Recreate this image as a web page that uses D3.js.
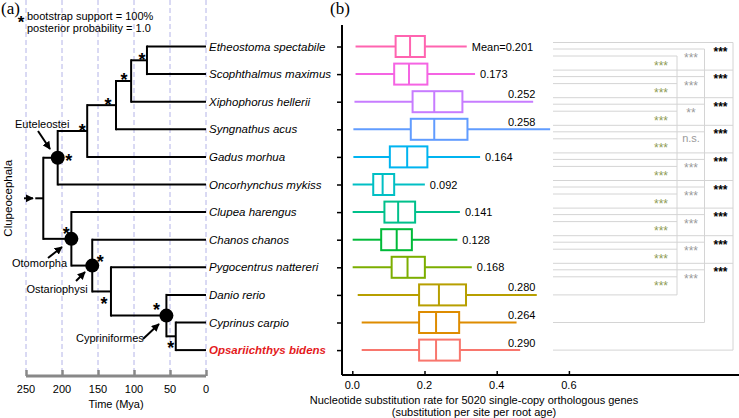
<!DOCTYPE html>
<html>
<head>
<meta charset="utf-8">
<script src="https://cdn.jsdelivr.net/npm/d3@7"></script>
<style>
body { margin: 0; background: #fff; }
text { font-family: "Liberation Sans", Arial, sans-serif; }
</style>
</head>
<body>
<div id="chart"></div>
<script>

// species, top to bottom
var species = ["Etheostoma spectabile", "Scophthalmus maximus", "Xiphophorus hellerii",
  "Syngnathus acus", "Gadus morhua", "Oncorhynchus mykiss", "Clupea harengus",
  "Chanos chanos", "Pygocentrus nattereri", "Danio rerio", "Cyprinus carpio",
  "Opsariichthys bidens"];

// boxplot stats (substitution rate)
var whiskerLow  = [0.009, 0.009, 0.006, 0.003, 0.003, 0.001, 0.001, 0.001, 0.001, 0.015, 0.026, 0.026];
var boxLow      = [0.120, 0.116, 0.167, 0.162, 0.104, 0.058, 0.089, 0.080, 0.109, 0.185, 0.185, 0.185];
var medians     = [0.160, 0.157, 0.227, 0.227, 0.152, 0.084, 0.127, 0.123, 0.153, 0.240, 0.232, 0.232];
var boxHigh     = [0.201, 0.208, 0.305, 0.319, 0.208, 0.116, 0.174, 0.165, 0.201, 0.315, 0.296, 0.298];
var whiskerHigh = [0.317, 0.340, 0.501, 0.548, 0.354, 0.201, 0.298, 0.291, 0.331, 0.511, 0.455, 0.465];
var means       = [0.201, 0.173, 0.252, 0.258, 0.164, 0.092, 0.141, 0.128, 0.168, 0.280, 0.264, 0.290];

var boxColors = ["#FF64B0", "#F564E3", "#C77CFF", "#619CFF", "#00B4F0", "#00BFC4",
  "#00C08B", "#00BA38", "#7CAE00", "#B79F00", "#DE8C00", "#F8766D"];

// significance vs Danio, Cyprinus, Opsariichthys (rows 0-8)
var sigDanio    = ["***", "***", "***", "***", "***", "***", "***", "***", "***"];
var sigCyprinus = ["***", "***", "**", "n.s.", "***", "***", "***", "***", "***"];
var sigOpsar    = ["***", "***", "***", "***", "***", "***", "***", "***", "***"];

var timeTicks = [250, 200, 150, 100, 50, 0];
var rateTicks = [0, 0.2, 0.4, 0.6];

// tree: internal nodes (age in Mya) and their children ("t" tip / "n" node)
var nodeAges = [82, 104, 125, 165, 206, 226, 187, 158, 132, 55, 42];
var nodeChildren = [["t0", "t1"], ["n0", "t2"], ["n1", "t3"], ["n2", "t4"], ["n3", "t5"],
  ["n4", "n6"], ["t6", "n7"], ["t7", "n8"], ["t8", "n9"], ["t9", "n10"], ["t10", "t11"]];
var rootNode = 5;
var cladeNames = ["Euteleostei", "Otomorpha", "Ostariophysi", "Cypriniformes"];
var cladeNodes = [4, 6, 7, 9];


var W = 739, H = 418;
var svg = d3.select("#chart").append("svg")
    .attr("width", W)
    .attr("height", H);

var yRow = d3.scaleLinear().domain([0, species.length - 1]).range([46.5, 350.1]);
var xTime = d3.scaleLinear().domain([250, 0]).range([26, 206]);
var xRate = d3.scaleLinear().domain([0, 0.6]).range([352.3, 568.9]);

// ---------- panel (a) ----------
svg.append("text")
    .attr("x", 1).attr("y", 14)
    .style("font-family", "Liberation Serif, serif")
    .style("font-size", "17px")
    .text("(a)");

svg.selectAll(".grid")
  .data(timeTicks)
  .enter().append("line")
    .attr("x1", function(d) { return xTime(d); })
    .attr("x2", function(d) { return xTime(d); })
    .attr("y1", 0).attr("y2", 371)
    .attr("stroke", "#b4b4e8")
    .attr("stroke-width", 1)
    .attr("stroke-dasharray", "5,3");

// legend
svg.append("text").attr("x", 21).attr("y", 28).attr("text-anchor", "middle")
    .style("font-size", "17px").style("font-weight", "bold").text("*");
svg.append("text").attr("x", 27).attr("y", 19.5).style("font-size", "11px")
    .text("bootstrap support = 100%");
svg.append("text").attr("x", 27).attr("y", 32).style("font-size", "11px")
    .text("posterior probability = 1.0");

// node positions
function pos(id) {
  var i = +id.slice(1);
  if (id[0] == "t") return { x: xTime(0), y: yRow(i) };
  var c = nodeChildren[i].map(pos);
  return { x: xTime(nodeAges[i]), y: (c[0].y + c[1].y) / 2 };
}

var tree = svg.append("g")
    .attr("stroke", "#000")
    .attr("stroke-width", 2)
    .attr("fill", "none");

nodeChildren.forEach(function(ch, i) {
  var p = pos("n" + i);
  var c = ch.map(pos);
  tree.append("line")
      .attr("x1", p.x).attr("x2", p.x)
      .attr("y1", c[0].y - 1).attr("y2", c[1].y + 1);
  c.forEach(function(cc) {
    tree.append("line")
        .attr("x1", p.x).attr("x2", cc.x)
        .attr("y1", cc.y).attr("y2", cc.y);
  });
});

// root stem with arrow
var rp = pos("n" + rootNode);
tree.append("line").attr("x1", rp.x - 8).attr("x2", rp.x).attr("y1", rp.y).attr("y2", rp.y);

var defs = svg.append("defs");
defs.append("marker")
    .attr("id", "arr")
    .attr("viewBox", "0 0 10 10")
    .attr("refX", 9).attr("refY", 5)
    .attr("markerWidth", 4).attr("markerHeight", 4)
    .attr("orient", "auto")
  .append("path")
    .attr("d", "M0,0L10,5L0,10z")
    .attr("fill", "#000");

function arrow(x1, y1, x2, y2) {
  svg.append("line")
      .attr("x1", x1).attr("y1", y1).attr("x2", x2).attr("y2", y2)
      .attr("stroke", "#000").attr("stroke-width", 2)
      .attr("marker-end", "url(#arr)");
}
arrow(24, rp.y, 33, rp.y);

// stars on supported nodes (offset from node)
var starOffsets = { 0: [-5, -5], 1: [-7, -6], 2: [-8, -5], 3: [-5, -5], 4: [11, -1],
  6: [-5, -9], 7: [8, -8], 8: [-7, 8], 9: [-10, -10], 10: [-5, 7] };
Object.keys(starOffsets).forEach(function(k) {
  var p = pos("n" + k);
  svg.append("text")
      .attr("x", p.x + starOffsets[k][0])
      .attr("y", p.y + starOffsets[k][1] + 10.5)
      .attr("text-anchor", "middle")
      .style("font-size", "18px")
      .style("font-weight", "bold")
      .text("*");
});

// clade circles + labels
cladeNodes.forEach(function(n) {
  var p = pos("n" + n);
  svg.append("circle").attr("cx", p.x).attr("cy", p.y).attr("r", 7).attr("fill", "#000");
});
svg.append("text").attr("x", 15).attr("y", 128).style("font-size", "11px").text(cladeNames[0]);
svg.append("text").attr("x", 12).attr("y", 267).style("font-size", "11px").text(cladeNames[1]);
svg.append("text").attr("x", 26.5).attr("y", 293).style("font-size", "11px").text(cladeNames[2]);
svg.append("text").attr("x", 76).attr("y", 342).style("font-size", "11px").text(cladeNames[3]);
arrow(38, 131, 50, 149);
arrow(48, 258, 62, 247);
arrow(76, 281, 85, 272);
arrow(143, 339, 159, 324);

svg.append("text")
    .attr("transform", "translate(12," + rp.y + ") rotate(-90)")
    .attr("text-anchor", "middle")
    .style("font-size", "11.5px")
    .text("Clupeocephala");

// species names
svg.selectAll(".sp")
  .data(species)
  .enter().append("text")
    .attr("x", 209)
    .attr("y", function(d, i) { return yRow(i) + 4; })
    .style("font-size", "11.5px")
    .style("font-style", "italic")
    .style("font-weight", function(d, i) { return i == species.length - 1 ? "bold" : "normal"; })
    .attr("fill", function(d, i) { return i == species.length - 1 ? "#e41a1c" : "#000"; })
    .text(function(d) { return d; });

// time axis
var tAxis = svg.append("g")
    .attr("transform", "translate(0,376)")
    .call(d3.axisTop(xTime).tickValues(timeTicks).tickSize(6).tickFormat(""));
tAxis.select(".domain").attr("stroke", "#888").attr("stroke-width", 3).attr("d", "M" + xTime(250) + ",0H" + xTime(0));
tAxis.selectAll(".tick line").attr("stroke", "#888").attr("stroke-width", 2.5);
svg.selectAll(".tlab")
  .data(timeTicks)
  .enter().append("text")
    .attr("x", function(d) { return xTime(d); })
    .attr("y", 393)
    .attr("text-anchor", "middle")
    .style("font-size", "11px")
    .text(function(d) { return d; });
svg.append("text").attr("x", 116).attr("y", 408).attr("text-anchor", "middle")
    .style("font-size", "11px").text("Time (Mya)");

// ---------- panel (b) ----------
svg.append("text")
    .attr("x", 330).attr("y", 14)
    .style("font-family", "Liberation Serif, serif")
    .style("font-size", "17px")
    .text("(b)");

var yAxis = svg.append("g")
    .attr("transform", "translate(342,0)")
    .call(d3.axisLeft(yRow).tickValues(d3.range(species.length)).tickSize(5).tickFormat(""));
yAxis.select(".domain").attr("d", "M0,25V375").attr("stroke-width", 2);
yAxis.selectAll(".tick line").attr("stroke-width", 1.5);

var xAxis = svg.append("g")
    .attr("transform", "translate(0,375)")
    .call(d3.axisTop(xRate).tickValues(rateTicks).tickSize(4).tickFormat(""));
xAxis.select(".domain").attr("d", "M342,0H739").attr("stroke-width", 2);
xAxis.selectAll(".tick line").attr("stroke-width", 1.5);
svg.selectAll(".rlab")
  .data(rateTicks)
  .enter().append("text")
    .attr("x", function(d) { return xRate(d); })
    .attr("y", 389)
    .attr("text-anchor", "middle")
    .style("font-size", "11px")
    .text(function(d) { return d3.format(".1f")(d); });
svg.append("text").attr("x", 474).attr("y", 404).attr("text-anchor", "middle")
    .style("font-size", "11px")
    .text("Nucleotide substitution rate for 5020 single-copy orthologous genes");
svg.append("text").attr("x", 474).attr("y", 416).attr("text-anchor", "middle")
    .style("font-size", "11px")
    .text("(substitution per site per root age)");

// boxes
var bh = 21;
var boxes = svg.selectAll(".box")
  .data(species)
  .enter().append("g")
    .attr("stroke", function(d, i) { return boxColors[i]; })
    .attr("stroke-width", 2)
    .attr("fill", "#fff");
boxes.append("line")
    .attr("x1", function(d, i) { return xRate(whiskerLow[i]); })
    .attr("x2", function(d, i) { return xRate(boxLow[i]); })
    .attr("y1", function(d, i) { return yRow(i); })
    .attr("y2", function(d, i) { return yRow(i); });
boxes.append("line")
    .attr("x1", function(d, i) { return xRate(boxHigh[i]); })
    .attr("x2", function(d, i) { return xRate(whiskerHigh[i]); })
    .attr("y1", function(d, i) { return yRow(i); })
    .attr("y2", function(d, i) { return yRow(i); });
boxes.append("rect")
    .attr("x", function(d, i) { return xRate(boxLow[i]); })
    .attr("width", function(d, i) { return xRate(boxHigh[i]) - xRate(boxLow[i]); })
    .attr("y", function(d, i) { return yRow(i) - bh / 2; })
    .attr("height", bh);
boxes.append("line")
    .attr("x1", function(d, i) { return xRate(medians[i]); })
    .attr("x2", function(d, i) { return xRate(medians[i]); })
    .attr("y1", function(d, i) { return yRow(i) - bh / 2; })
    .attr("y2", function(d, i) { return yRow(i) + bh / 2; });

// mean labels
svg.selectAll(".mean")
  .data(means)
  .enter().append("text")
    .attr("x", function(d, i) { return whiskerHigh[i] > 0.4 ? xRate(0.431) : xRate(whiskerHigh[i]) + 5; })
    .attr("y", function(d, i) { return whiskerHigh[i] > 0.4 ? yRow(i) - 3.5 : yRow(i) + 4; })
    .style("font-size", "11px")
    .text(function(d, i) { return (i == 0 ? "Mean=" : "") + d3.format(".3f")(d); });

// significance brackets
var sigX0 = 553;
var sigCols = [
  { x: 677, off: 9.5, end: 9, labs: sigDanio, color: "#8f9c55", tx: 661, ty: 16, weight: "normal" },
  { x: 704.5, off: 2.5, end: 10, labs: sigCyprinus, color: "#9a9a9a", tx: 691, ty: 8.5, weight: "normal" },
  { x: 733, off: -4, end: 11, labs: sigOpsar, color: "#000", tx: 720.5, ty: 2, weight: "bold" }
];
var sig = svg.append("g")
    .attr("stroke", "#d4d4d4")
    .attr("stroke-width", 1);
sigCols.forEach(function(c) {
  c.labs.forEach(function(l, i) {
    sig.append("line")
        .attr("x1", sigX0).attr("x2", c.x)
        .attr("y1", yRow(i) + c.off).attr("y2", yRow(i) + c.off);
    svg.append("text")
        .attr("x", c.tx)
        .attr("y", yRow(i) + c.ty + (l == "n.s." ? 4 : 7))
        .attr("text-anchor", "middle")
        .attr("fill", c.color)
        .style("font-size", l == "n.s." ? "11px" : "12px")
        .style("font-weight", c.weight)
        .text(l);
  });
  sig.append("line")
      .attr("x1", sigX0).attr("x2", c.x)
      .attr("y1", yRow(c.end)).attr("y2", yRow(c.end));
  sig.append("line")
      .attr("x1", c.x).attr("x2", c.x)
      .attr("y1", yRow(0) + c.off).attr("y2", yRow(c.end));
});

</script>
</body>
</html>
